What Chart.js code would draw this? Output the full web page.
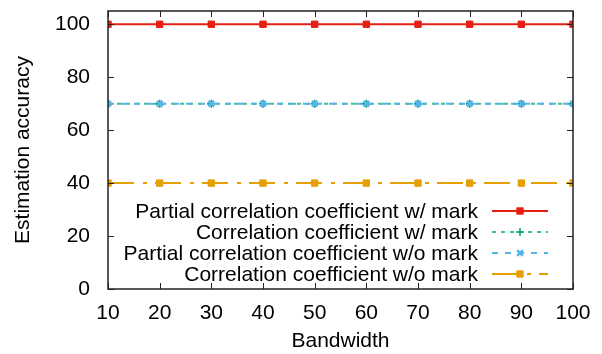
<!DOCTYPE html>
<html>
<head>
<meta charset="utf-8">
<script src="https://cdn.jsdelivr.net/npm/chart.js@4"></script>
<style>
  html, body { margin: 0; padding: 0; background: #fff; }
  #wrap { width: 602px; height: 354px; }
</style>
</head>
<body>
<div id="wrap"><canvas id="accuracyChart" width="602" height="354"></canvas></div>
<script>
// ---------- data ----------
const bandwidth = [10, 20, 30, 40, 50, 60, 70, 80, 90, 100];
const partialWithMark = [100, 100, 100, 100, 100, 100, 100, 100, 100, 100];
const corrWithMark = [70, 70, 70, 70, 70, 70, 70, 70, 70, 70];
const partialWithoutMark = [70, 70, 70, 70, 70, 70, 70, 70, 70, 70];
const corrWithoutMark = [40, 40, 40, 40, 40, 40, 40, 40, 40, 40];
const yTicks = [0, 20, 40, 60, 80, 100];
const seriesNames = [
    'Partial correlation coefficient w/ mark',
    'Correlation coefficient w/ mark',
    'Partial correlation coefficient w/o mark',
    'Correlation coefficient w/o mark'
];

Chart.defaults.font.family = "'Liberation Sans', Arial, sans-serif";
Chart.defaults.font.size = 21;
Chart.defaults.color = '#000';

function toPoints(values) {
    return bandwidth.map((b, i) => ({ x: b, y: values[i] }));
}

// frame + inward ticks on all four sides, like gnuplot
const framePlugin = {
    id: 'frame',
    afterDatasetsDraw(chart) {
        const ctx = chart.ctx;
        const a = chart.chartArea;
        const xs = chart.scales.x;
        const ys = chart.scales.y;
        ctx.save();
        ctx.strokeStyle = '#222';
        ctx.lineWidth = 1;
        bandwidth.forEach((b) => {
            const px = Math.round(xs.getPixelForValue(b)) + 0.5;
            ctx.beginPath();
            ctx.moveTo(px, a.bottom); ctx.lineTo(px, a.bottom - 6);
            ctx.moveTo(px, a.top); ctx.lineTo(px, a.top + 6);
            ctx.stroke();
        });
        yTicks.forEach((t) => {
            const py = Math.round(ys.getPixelForValue(t)) + 0.5;
            ctx.beginPath();
            ctx.moveTo(a.left, py); ctx.lineTo(a.left + 6, py);
            ctx.moveTo(a.right, py); ctx.lineTo(a.right - 6, py);
            ctx.stroke();
        });
        ctx.lineWidth = 1.5;
        ctx.strokeRect(a.left, a.top, a.right - a.left, a.bottom - a.top);
        ctx.restore();
    }
};

// legend inside the plot, text right aligned, sample on the right
const keyPlugin = {
    id: 'key',
    afterDraw(chart) {
        const ctx = chart.ctx;
        const textRight = 478;
        const lineStart = 492;
        const lineEnd = 548;
        const rows = [211, 232, 253, 274];
        ctx.save();
        chart.data.datasets.forEach((ds, i) => {
            const y = rows[i];
            ctx.fillStyle = '#000';
            ctx.font = "21px 'Liberation Sans', Arial, sans-serif";
            ctx.textAlign = 'right';
            ctx.textBaseline = 'middle';
            ctx.fillText(ds.label, textRight, y + 1);
            ctx.strokeStyle = ds.borderColor;
            ctx.lineWidth = ds.borderWidth;
            ctx.setLineDash(ds.borderDash || []);
            ctx.beginPath();
            ctx.moveTo(lineStart, y);
            ctx.lineTo(lineEnd, y);
            ctx.stroke();
            ctx.setLineDash([]);
            ctx.fillStyle = ds.pointBackgroundColor;
            ctx.strokeStyle = ds.pointBorderColor;
            ctx.lineWidth = ds.pointBorderWidth;
            Chart.helpers.drawPoint(ctx, {
                pointStyle: ds.pointStyle,
                radius: ds.pointRadius,
                rotation: 0,
                borderWidth: ds.pointBorderWidth
            }, (lineStart + lineEnd) / 2, y);
        });
        ctx.restore();
    }
};

const ctx = document.getElementById('accuracyChart').getContext('2d');
const accuracyChart = new Chart(ctx, {
    type: 'line',
    data: {
        datasets: [{
            label: seriesNames[0],
            data: toPoints(partialWithMark),
            order: 0,
            borderColor: '#e41f14',
            borderWidth: 2,
            pointStyle: 'rect',
            pointRadius: 4.5,
            pointBackgroundColor: '#e41f14',
            pointBorderColor: '#e41f14',
            pointBorderWidth: 1
        }, {
            label: seriesNames[1],
            data: toPoints(corrWithMark),
            order: 3,
            borderColor: '#3fbf8f',
            borderWidth: 2,
            borderDash: [4, 5],
            pointStyle: 'cross',
            pointRadius: 4,
            pointBackgroundColor: '#009e73',
            pointBorderColor: '#009e73',
            pointBorderWidth: 1.5
        }, {
            label: seriesNames[2],
            data: toPoints(partialWithoutMark),
            order: 1,
            borderColor: '#56b4e9',
            borderWidth: 2,
            borderDash: [6, 7],
            pointStyle: 'crossRot',
            pointRadius: 4,
            pointBackgroundColor: '#56b4e9',
            pointBorderColor: '#56b4e9',
            pointBorderWidth: 2.5
        }, {
            label: seriesNames[3],
            data: toPoints(corrWithoutMark),
            order: 2,
            borderColor: '#e69f00',
            borderWidth: 2,
            borderDash: [26, 9, 4, 8],
            pointStyle: 'rect',
            pointRadius: 4.5,
            pointBackgroundColor: '#e69f00',
            pointBorderColor: '#e69f00',
            pointBorderWidth: 1
        }]
    },
    options: {
        responsive: false,
        animation: false,
        layout: { padding: { top: 0, right: 29, left: 0, bottom: 0 } },
        plugins: {
            legend: { display: false },
            tooltip: { enabled: false }
        },
        scales: {
            x: {
                type: 'linear',
                min: 10,
                max: 100,
                ticks: { stepSize: 10, padding: 4, maxRotation: 0 },
                grid: { display: false },
                border: { display: false },
                title: { display: true, text: 'Bandwidth', padding: { top: 0, bottom: 0 } },
                afterFit(scale) { scale.height = 65; }
            },
            y: {
                min: 0,
                max: 105,
                ticks: { padding: 10 },
                afterBuildTicks(scale) { scale.ticks = yTicks.map((v) => ({ value: v })); },
                grid: { display: false },
                border: { display: false },
                title: { display: true, text: 'Estimation accuracy', padding: { top: 11, bottom: 0 } },
                afterFit(scale) {
                    scale.width = 108;
                    scale.paddingTop = 11;
                }
            }
        }
    },
    plugins: [framePlugin, keyPlugin]
});
</script>
</body>
</html>
